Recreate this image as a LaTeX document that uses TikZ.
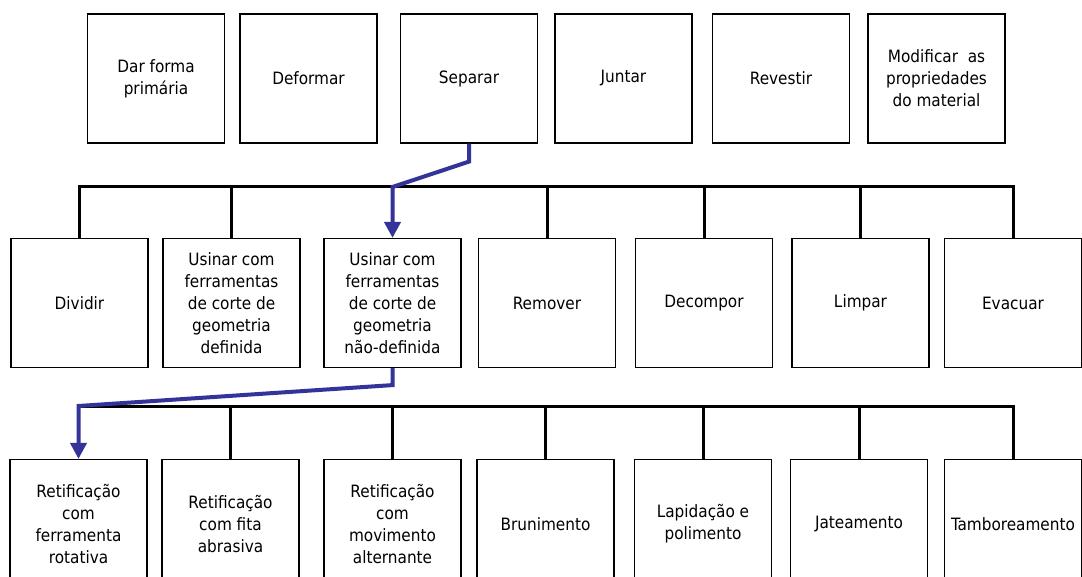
\documentclass[tikz,border=0pt]{standalone}
\usepackage{fontspec}
\setmainfont{DejaVu Sans Condensed}
\usepackage{tikz}
\usetikzlibrary{positioning}
\usetikzlibrary{arrows.meta}
\definecolor{flowblue}{RGB}{51,51,153}

\begin{document}
\begin{tikzpicture}[x=1pt,y=-1pt]
        \tikzset{box/.style={shape=rectangle,draw,line width=1.2pt,minimum width=137pt,minimum height=129pt,inner sep=0pt,align=center,font=\fontsize{17pt}{22pt}\selectfont}}
        \tikzset{bus/.style={line width=3pt}}
        \tikzset{flow/.style={draw=flowblue,line width=4pt,-{Triangle[length=16pt,width=16pt]}}}

        \useasboundingbox (0,0) rectangle (1082,577);
        \clip (0,0) rectangle (1082,577);

        \node[box] (t1) at (156,78.5)   {Dar forma\\primária};
        \node[box] (t2) at (308.5,78.5) {Deformar};
        \node[box] (t3) at (469,78.5)   {Separar};
        \node[box] (t4) at (623.5,78.5) {Juntar};
        \node[box] (t5) at (781,78.5)   {Revestir};
        \node[box] (t6) at (936.5,78.5) {Modificar~~as\\propriedades\\do material};

        \node[box] (m1) at (79.5,303)  {Dividir};
        \node[box] (m2) at (231.5,303) {Usinar com\\ferramentas\\de corte de\\geometria\\definida};
        \node[box] (m3) at (392.5,303) {Usinar com\\ferramentas\\de corte de\\geometria\\não-definida};
        \node[box] (m4) at (547,303)   {Remover};
        \node[box] (m5) at (704,303)   {Decompor};
        \node[box] (m6) at (860.5,303) {Limpar};
        \node[box] (m7) at (1013,303)  {Evacuar};

        \node[box] (b1) at (78.5,524)  {Retificação\\com\\ferramenta\\rotativa};
        \node[box] (b2) at (230.5,524) {Retificação\\com fita\\abrasiva};
        \node[box] (b3) at (392.5,524) {Retificação\\com\\movimento\\alternante};
        \node[box] (b4) at (545.5,524) {Brunimento};
        \node[box] (b5) at (703,524)   {Lapidação e\\polimento};
        \node[box] (b6) at (859,524)   {Jateamento};
        \node[box] (b7) at (1013,524)  {Tamboreamento};

        \coordinate (busA) at (0,187);
        \coordinate (busB) at (0,406);

        \draw[bus] (m1.north) |- (m7.north |- busA) -- (m7.north);
        \draw[bus] (m2.north) -- (m2.north |- busA);
        \draw[bus] (m4.north) -- (m4.north |- busA);
        \draw[bus] (m5.north) -- (m5.north |- busA);
        \draw[bus] (m6.north) -- (m6.north |- busA);

        \draw[bus] (b1.north |- busB) -| (b7.north);
        \draw[bus] (b2.north) -- (b2.north |- busB);
        \draw[bus] (b3.north) -- (b3.north |- busB);
        \draw[bus] (b4.north) -- (b4.north |- busB);
        \draw[bus] (b5.north) -- (b5.north |- busB);
        \draw[bus] (b6.north) -- (b6.north |- busB);

        \draw[flow] (t3.south) -- ++(0,18) -- (m3.north |- busA) -- (m3.north);
        \draw[flow] (m3.south) -- ++(0,17) -- (b1.north |- busB) -- (b1.north);
    \end{tikzpicture}
\end{document}
